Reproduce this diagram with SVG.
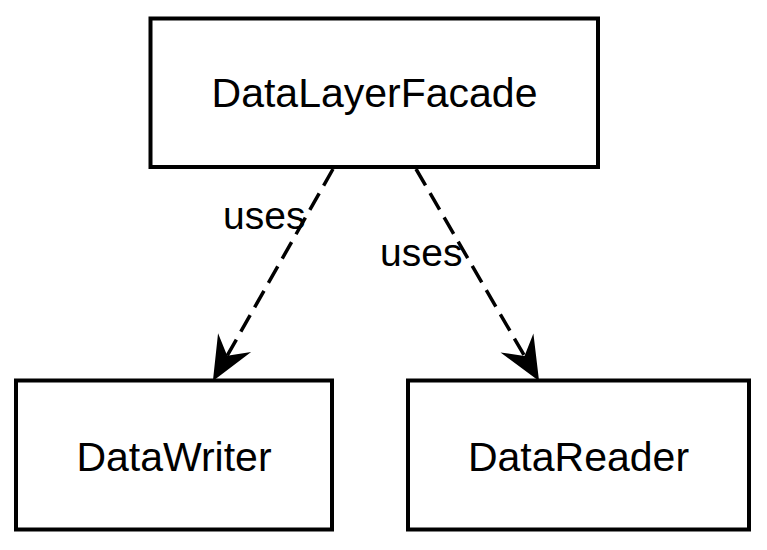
<svg xmlns="http://www.w3.org/2000/svg" width="767" height="550" viewBox="0 0 767 550">
<style>
.box{fill:#fff;stroke:#000;stroke-width:4}
.lbl{font-family:"Liberation Sans",Arial,Helvetica,sans-serif;font-size:41px;fill:#000;text-anchor:middle}
.edge{fill:none;stroke:#000;stroke-width:3.5;stroke-dasharray:19 9}
.elbl{font-family:"Liberation Sans",Arial,Helvetica,sans-serif;font-size:39px;fill:#000}
</style>
<defs>
<marker id="arr" viewBox="-46 -21 48 42" markerWidth="48" markerHeight="42" refX="-29" refY="0" markerUnits="userSpaceOnUse" orient="auto">
<path d="M0,0 L-44,-19 L-29,0 L-44,19 Z" fill="#000"/>
</marker>
</defs>
<rect width="767" height="550" fill="#fff"/>
<g id="node-DataLayerFacade">
<rect class="box" x="150.5" y="18.5" width="447.5" height="148.5"/>
<text class="lbl" x="374.5" y="107">DataLayerFacade</text>
</g>
<g id="node-DataWriter">
<rect class="box" x="16" y="380.5" width="316" height="149"/>
<text class="lbl" x="174" y="471">DataWriter</text>
</g>
<g id="node-DataReader">
<rect class="box" x="408" y="380.5" width="341" height="149"/>
<text class="lbl" x="578.5" y="471">DataReader</text>
</g>
<g id="connectors">
<path class="edge" d="M333,169 L227.2,355.7" marker-end="url(#arr)"/>
<path class="edge" d="M416,169 L524.5,355.9" marker-end="url(#arr)"/>
<text class="elbl" x="223" y="229">uses</text>
<text class="elbl" x="380" y="266">uses</text>
</g>
</svg>
